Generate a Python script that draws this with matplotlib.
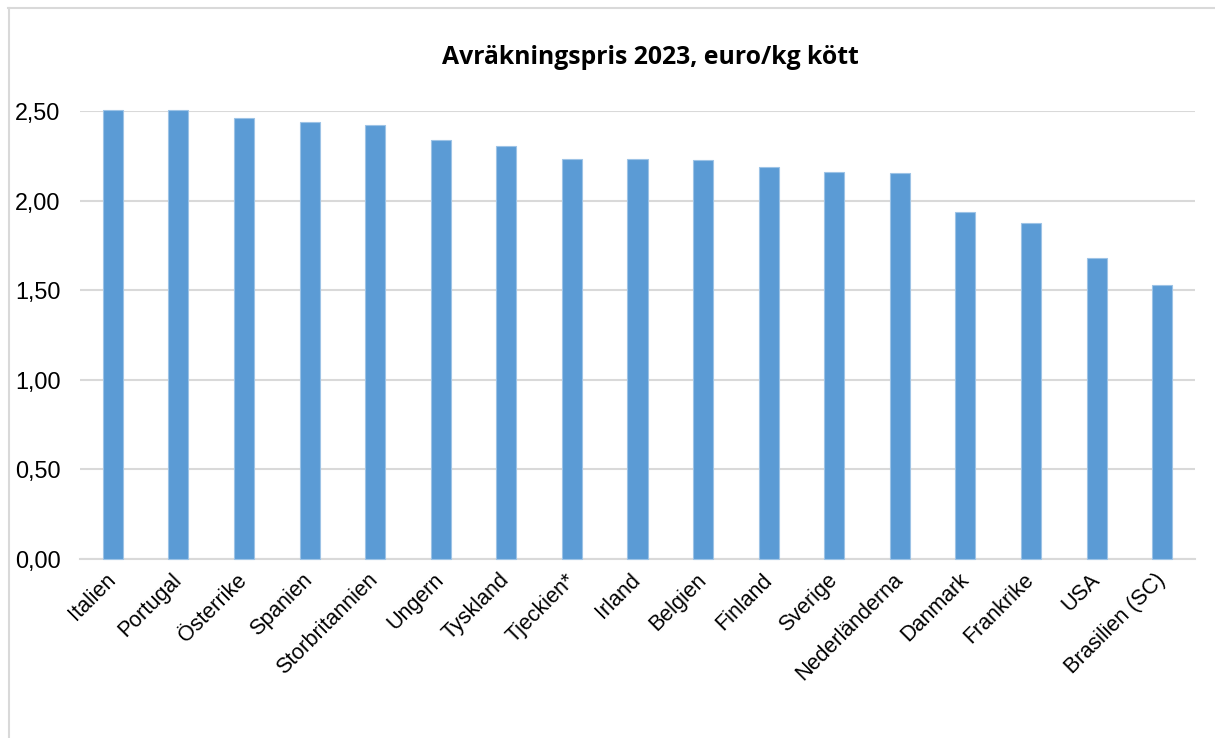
import matplotlib
matplotlib.use("Agg")
import matplotlib.pyplot as plt
from matplotlib.lines import Line2D

countries = ["Italien", "Portugal", "Österrike", "Spanien", "Storbritannien", "Ungern",
             "Tyskland", "Tjeckien*", "Irland", "Belgien", "Finland", "Sverige",
             "Nederländerna", "Danmark", "Frankrike", "USA", "Brasilien (SC)"]
prices = [2.505, 2.505, 2.463, 2.440, 2.424, 2.340, 2.303, 2.234, 2.230, 2.225,
          2.190, 2.162, 2.154, 1.939, 1.873, 1.677, 1.530]
yticks = [0.0, 0.5, 1.0, 1.5, 2.0, 2.5]
ytick_labels = ["0,00", "0,50", "1,00", "1,50", "2,00", "2,50"]
title = "Avräkningspris 2023, euro/kg kött"

W, H = 1215, 738
fig = plt.figure(figsize=(W / 100, H / 100), dpi=100)
fig.patch.set_facecolor("white")

ax = fig.add_axes([80 / W, 1 - 559 / H, (1195 - 80) / W, (559 - 111) / H])
x = list(range(len(countries)))
ax.bar(x, prices, width=0.305, color="#5B9BD5", edgecolor="#9DC3E6",
       linewidth=0.8, zorder=3, clip_on=False)
ax.set_xlim(-0.5, len(countries) - 0.5)
ax.set_ylim(0, 2.5)
ax.set_yticks(yticks)
ax.set_yticklabels(ytick_labels, fontsize=16.8, family="Liberation Sans")
ax.set_xticks(x)
ax.set_xticklabels(countries, rotation=45, ha="right", va="center",
                   rotation_mode="anchor", fontsize=15.5, family="Liberation Sans")
ax.tick_params(axis="both", length=0, colors="black")
ax.tick_params(axis="y", pad=14)
ax.tick_params(axis="x", pad=13)
ax.grid(axis="y", color="#D9D9D9", linewidth=1.5, zorder=0)
for s in ["left", "right", "top"]:
    ax.spines[s].set_visible(False)
ax.spines["bottom"].set_color("#D9D9D9")
ax.spines["bottom"].set_linewidth(1.5)

fig.text(650 / W, 1 - 57 / H, title, ha="center", va="center",
         fontsize=17.8, fontweight="bold", family="Open Sans")

# chart area border
fig.add_artist(Line2D([8 / W, 1.0], [1 - 8 / H, 1 - 8 / H], color="#D9D9D9",
                      linewidth=1.5, transform=fig.transFigure))
fig.add_artist(Line2D([9 / W, 9 / W], [0, 1 - 8 / H], color="#D9D9D9",
                      linewidth=1.5, transform=fig.transFigure))

fig.savefig("out.png", dpi=100, facecolor="white")
